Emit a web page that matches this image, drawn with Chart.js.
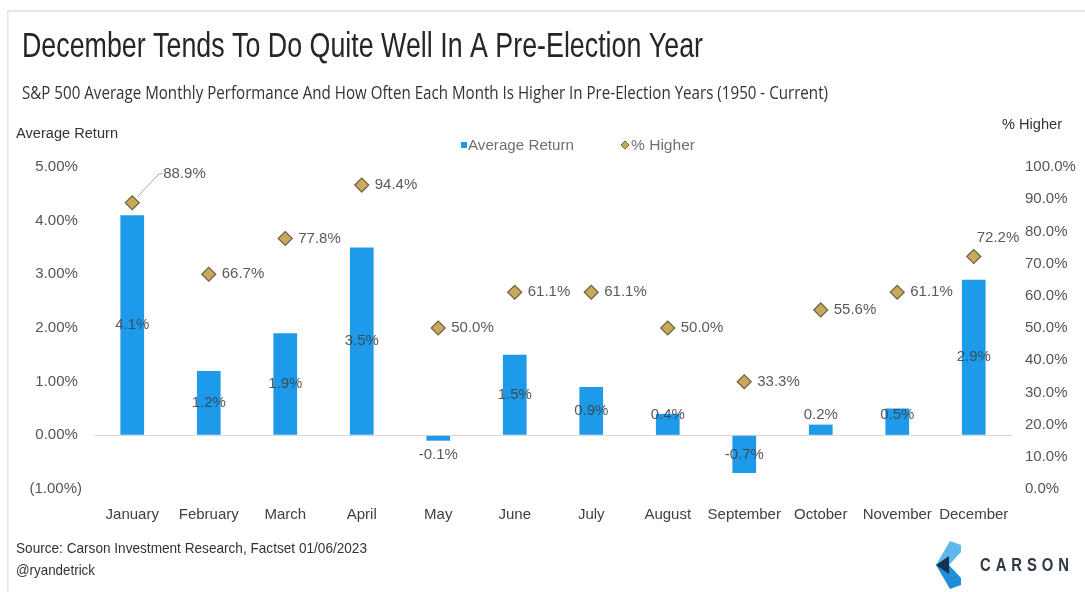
<!DOCTYPE html>
<html>
<head>
<meta charset="utf-8">
<title>December Tends To Do Quite Well In A Pre-Election Year</title>
<script src="https://cdn.jsdelivr.net/npm/chart.js@4/dist/chart.umd.min.js"></script>
<style>
  html, body { margin: 0; padding: 0; background: #fff; }
  #wrap { position: relative; width: 1085px; height: 592px; }
</style>
</head>
<body>
<div id="wrap"><canvas id="preElection" width="1085" height="592"></canvas></div>
<script>
// S&P 500 in pre-election years, 1950 - current
var months = ["January", "February", "March", "April", "May", "June",
              "July", "August", "September", "October", "November", "December"];
var avgReturn = [4.1, 1.2, 1.9, 3.5, -0.1, 1.5, 0.9, 0.4, -0.7, 0.2, 0.5, 2.9];
var pctHigher = [88.9, 66.7, 77.8, 94.4, 50.0, 61.1, 61.1, 50.0, 33.3, 55.6, 61.1, 72.2];
var returnTicks = [-1, 0, 1, 2, 3, 4, 5];
var higherTicks = [0, 10, 20, 30, 40, 50, 60, 70, 80, 90, 100];

var BLUE = "#1D9BEA";
var GOLD = "#C9A95C";
var GOLD_EDGE = "#6E6140";
var SANS = '"Liberation Sans", Arial, sans-serif';

// draw text squeezed/stretched to a given width
function fitText(ctx, str, x, y, w, font, color) {
    ctx.save();
    ctx.font = font;
    var m = ctx.measureText(str).width;
    ctx.translate(x, y);
    ctx.scale(w / m, 1);
    ctx.fillStyle = color;
    ctx.textAlign = "left";
    ctx.textBaseline = "alphabetic";
    ctx.fillText(str, 0, 0);
    ctx.restore();
}

var frame = {
    id: "frame",
    beforeDraw: function(chart) {
        var ctx = chart.ctx;
        ctx.save();
        ctx.fillStyle = "#fff";
        ctx.fillRect(0, 0, chart.width, chart.height);
        ctx.fillStyle = "#e6e6e6";
        ctx.fillRect(7, 10, chart.width - 7, 2);
        ctx.fillRect(7, 10, 1.5, chart.height - 10);
        ctx.restore();

        fitText(ctx, "December Tends To Do Quite Well In A Pre-Election Year",
            22, 57, 681, "35px " + SANS, "#262626");
        fitText(ctx, "S&P 500 Average Monthly Performance And How Often Each Month Is Higher In Pre-Election Years (1950 - Current)",
            22, 99, 806, '18px "Open Sans", sans-serif', "#333");
        fitText(ctx, "Average Return", 16, 138, 102, "15.5px " + SANS, "#333");
        fitText(ctx, "% Higher", 1002, 129, 60, "15.5px " + SANS, "#333");

        // legend
        ctx.save();
        ctx.fillStyle = BLUE;
        ctx.fillRect(461, 142, 6, 6);
        ctx.beginPath();
        ctx.moveTo(625, 141); ctx.lineTo(629, 145); ctx.lineTo(625, 149); ctx.lineTo(621, 145);
        ctx.closePath();
        ctx.fillStyle = GOLD;
        ctx.fill();
        ctx.strokeStyle = GOLD_EDGE;
        ctx.lineWidth = 1;
        ctx.stroke();
        ctx.restore();
        fitText(ctx, "Average Return", 468, 150, 106, "15px " + SANS, "#707070");
        fitText(ctx, "% Higher", 631, 150, 64, "15px " + SANS, "#707070");

        // footer
        fitText(ctx, "Source: Carson Investment Research, Factset 01/06/2023", 16, 553, 351, "14.5px " + SANS, "#333");
        fitText(ctx, "@ryandetrick", 16, 575, 79, "14.5px " + SANS, "#333");

        // logo: chevron + wordmark
        ctx.save();
        ctx.fillStyle = "#5DB9EA";
        ctx.beginPath();
        ctx.moveTo(950, 541); ctx.lineTo(961, 545); ctx.lineTo(961, 552); ctx.lineTo(949, 565); ctx.lineTo(936, 565);
        ctx.closePath(); ctx.fill();
        ctx.fillStyle = "#1E8ED8";
        ctx.beginPath();
        ctx.moveTo(936, 565); ctx.lineTo(949, 565); ctx.lineTo(961, 578); ctx.lineTo(961, 585); ctx.lineTo(950, 589);
        ctx.closePath(); ctx.fill();
        ctx.fillStyle = "#17304F";
        ctx.beginPath();
        ctx.moveTo(936, 565); ctx.lineTo(949, 556); ctx.lineTo(949, 574);
        ctx.closePath(); ctx.fill();
        ctx.letterSpacing = "6px";
        fitText(ctx, "CARSON", 980, 571, 94, "bold 18px " + SANS, "#2E3742");
        ctx.restore();
    }
};

// value labels for bars and diamonds
var valueLabels = {
    id: "valueLabels",
    afterDatasetsDraw: function(chart) {
        var ctx = chart.ctx;
        var zero = chart.scales.y.getPixelForValue(0);
        ctx.save();
        ctx.font = "15px " + SANS;
        ctx.textBaseline = "middle";

        // bars
        ctx.textAlign = "center";
        ctx.fillStyle = "rgba(60,60,60,0.85)";
        chart.getDatasetMeta(1).data.forEach(function(bar, i) {
            var v = avgReturn[i];
            var mid = (bar.y + bar.base) / 2;
            var y = v >= 0 ? Math.min(mid, zero - 20) : Math.max(mid, zero + 20);
            ctx.fillText(v.toFixed(1) + "%", bar.x, y);
        });

        // diamonds
        ctx.textAlign = "left";
        ctx.fillStyle = "#5a5a5a";
        chart.getDatasetMeta(0).data.forEach(function(pt, i) {
            var txt = pctHigher[i].toFixed(1) + "%";
            if (i === 0) {
                ctx.save();
                ctx.strokeStyle = "#a6a6a6";
                ctx.lineWidth = 1;
                ctx.beginPath();
                ctx.moveTo(pt.x + 5, pt.y - 6);
                ctx.lineTo(pt.x + 27, pt.y - 29);
                ctx.lineTo(pt.x + 30, pt.y - 29);
                ctx.stroke();
                ctx.restore();
                ctx.fillText(txt, pt.x + 31, pt.y - 29);
            } else if (i === 11) {
                ctx.fillText(txt, pt.x + 3, pt.y - 19);
            } else {
                ctx.fillText(txt, pt.x + 13, pt.y);
            }
        });
        ctx.restore();
    }
};

new Chart(document.getElementById("preElection").getContext("2d"), {
    type: "bar",
    data: {
        labels: months,
        datasets: [
            {
                type: "line",
                label: "% Higher",
                data: pctHigher,
                yAxisID: "y1",
                showLine: false,
                pointStyle: "rectRot",
                pointRadius: 7,
                pointBackgroundColor: GOLD,
                pointBorderColor: GOLD_EDGE,
                pointBorderWidth: 1.2,
                order: 0
            },
            {
                type: "bar",
                label: "Average Return",
                data: avgReturn,
                yAxisID: "y",
                backgroundColor: BLUE,
                barPercentage: 0.31,
                categoryPercentage: 1,
                order: 1
            }
        ]
    },
    options: {
        responsive: false,
        animation: false,
        layout: { padding: { left: 0, right: 0, top: 167, bottom: 63 } },
        plugins: {
            legend: { display: false },
            tooltip: { enabled: false }
        },
        scales: {
            x: {
                afterFit: function(s) { s.height = 40; },
                grid: { display: false, drawTicks: false },
                border: { display: false },
                ticks: {
                    color: "#404040",
                    padding: 17,
                    autoSkip: false,
                    minRotation: 0,
                    maxRotation: 0,
                    font: { family: SANS, size: 15 }
                }
            },
            y: {
                position: "left",
                min: -1,
                max: 5,
                afterFit: function(s) { s.width = 94; },
                afterBuildTicks: function(s) {
                    s.ticks = returnTicks.map(function(v) { return { value: v }; });
                },
                grid: {
                    drawTicks: false,
                    color: function(c) { return c.tick && c.tick.value === 0 ? "#d9d9d9" : "rgba(0,0,0,0)"; }
                },
                border: { display: false },
                ticks: {
                    padding: 12,
                    color: "#555",
                    font: { family: SANS, size: 15 },
                    callback: function(v) {
                        return v < 0 ? "(" + Math.abs(v).toFixed(2) + "%)" : v.toFixed(2) + "% ";
                    }
                }
            },
            y1: {
                position: "right",
                min: 0,
                max: 100,
                afterFit: function(s) { s.width = 73; },
                afterBuildTicks: function(s) {
                    s.ticks = higherTicks.map(function(v) { return { value: v }; });
                },
                grid: { display: false, drawTicks: false },
                border: { display: false },
                ticks: {
                    padding: 13,
                    color: "#555",
                    font: { family: SANS, size: 15 },
                    callback: function(v) { return v.toFixed(1) + "%"; }
                }
            }
        }
    },
    plugins: [frame, valueLabels]
});
</script>
</body>
</html>
